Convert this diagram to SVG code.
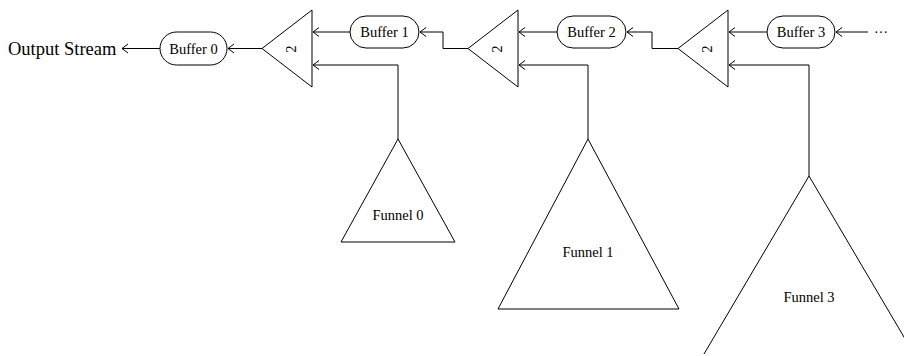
<svg xmlns="http://www.w3.org/2000/svg" width="904" height="356" viewBox="0 0 904 356">
<style>
.s{fill:none;stroke:#000;stroke-width:1}
.n{fill:#fff;stroke:#000;stroke-width:1}
text{font-family:'Liberation Serif','DejaVu Serif',serif;fill:#000}
.t{font-size:14.5px;text-anchor:middle}
.o{font-size:18.5px}
.k{font-size:14.5px;text-anchor:middle}
</style>
<defs>
<marker id="a" markerUnits="userSpaceOnUse" markerWidth="12" markerHeight="12" refX="11" refY="6" orient="auto" viewBox="0 0 12 12">
<path d="M5,1.5 L11,6 L5,10.5" fill="none" stroke="#000" stroke-width="1"/>
</marker>
</defs>
<rect width="904" height="356" fill="#fff"/>
<g id="output"><text class="o" x="8" y="54.5" font-family="Liberation Serif, serif">Output Stream</text></g>
<g id="buffer0"><rect class="n" x="160" y="32" width="67" height="33" rx="16.5"/><text class="t" x="193.5" y="53.5" font-family="Liberation Serif, serif">Buffer 0</text></g>
<g id="buffer1"><rect class="n" x="350" y="16" width="69" height="32" rx="16"/><text class="t" x="384.5" y="37" font-family="Liberation Serif, serif">Buffer 1</text></g>
<g id="buffer2"><rect class="n" x="557" y="16" width="69" height="32" rx="16"/><text class="t" x="591.5" y="37" font-family="Liberation Serif, serif">Buffer 2</text></g>
<g id="buffer3"><rect class="n" x="767" y="16" width="68" height="32" rx="16"/><text class="t" x="801" y="37" font-family="Liberation Serif, serif">Buffer 3</text></g>
<g id="merger1"><polygon class="n" points="262,48.5 312,10 312,87"/><text class="k" transform="translate(291,49) rotate(-90)" y="5" font-family="Liberation Serif, serif">2</text></g>
<g id="merger2"><polygon class="n" points="468,48.5 518,10 518,87"/><text class="k" transform="translate(497,49) rotate(-90)" y="5" font-family="Liberation Serif, serif">2</text></g>
<g id="merger3"><polygon class="n" points="678,48.5 728,10 728,87"/><text class="k" transform="translate(707,49) rotate(-90)" y="5" font-family="Liberation Serif, serif">2</text></g>
<g id="funnel0"><polygon class="n" points="398,139 455,242 341,242"/><text class="t" x="398" y="220" font-family="Liberation Serif, serif">Funnel 0</text></g>
<g id="funnel1"><polygon class="n" points="588,139 679,309 498,309"/><text class="t" x="588" y="257" font-family="Liberation Serif, serif">Funnel 1</text></g>
<g id="funnel3"><path class="s" d="M704,354 L809,176 L914,354"/><text class="t" x="809" y="302" font-family="Liberation Serif, serif">Funnel 3</text></g>
<g id="more"><text x="874" y="33" style="font-size:14px" font-family="Liberation Serif, serif">…</text></g>
<g id="connectors">
<path class="s" d="M160,48.5 H122" marker-end="url(#a)"/>
<path class="s" d="M262,48.5 H228" marker-end="url(#a)"/>
<path class="s" d="M350,32 H313" marker-end="url(#a)"/>
<path class="s" d="M398,139 V65 H313" marker-end="url(#a)"/>
<path class="s" d="M468,48.5 H443 V32 H420" marker-end="url(#a)"/>
<path class="s" d="M557,32 H519" marker-end="url(#a)"/>
<path class="s" d="M588,139 V65 H519" marker-end="url(#a)"/>
<path class="s" d="M678,48.5 H652 V32 H627" marker-end="url(#a)"/>
<path class="s" d="M767,32 H729" marker-end="url(#a)"/>
<path class="s" d="M809,176 V65 H729" marker-end="url(#a)"/>
<path class="s" d="M868,32 H836" marker-end="url(#a)"/>
</g>
</svg>
